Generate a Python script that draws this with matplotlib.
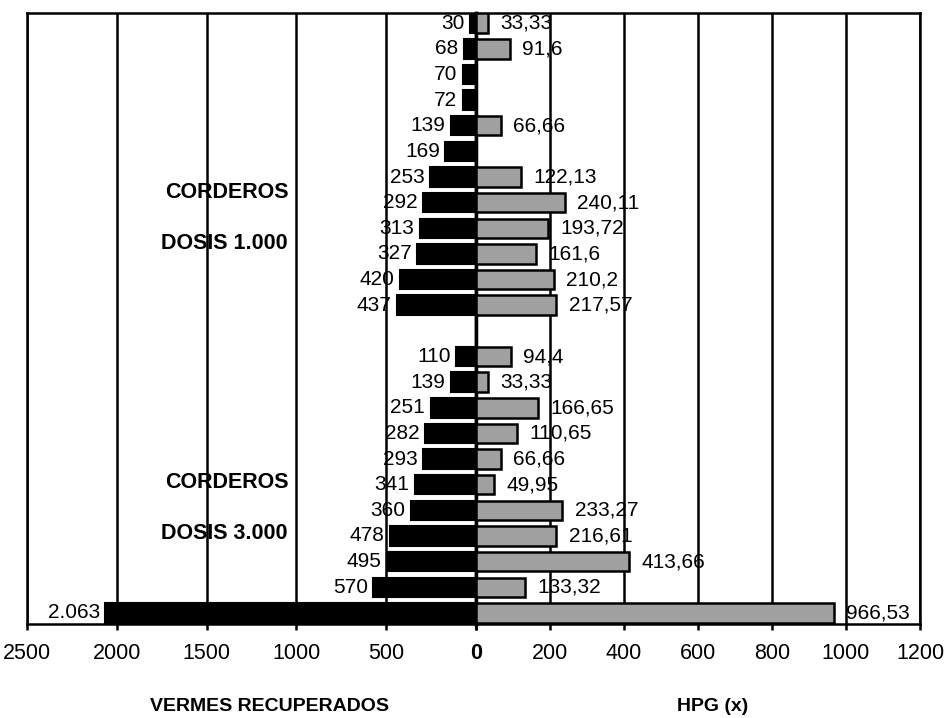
import numpy as np
import matplotlib.pyplot as plt

plt.rcParams['font.family'] = ['Liberation Sans', 'DejaVu Sans']

# grupo 1: corderos dosis 1.000 / grupo 2: corderos dosis 3.000 (de arriba a abajo)
vermes_1 = [30, 68, 70, 72, 139, 169, 253, 292, 313, 327, 420, 437]
hpg_1 = [33.33, 91.6, np.nan, np.nan, 66.66, np.nan, 122.13, 240.11, 193.72, 161.6, 210.2, 217.57]
vermes_2 = [110, 139, 251, 282, 293, 341, 360, 478, 495, 570, 2063]
hpg_2 = [94.4, 33.33, 166.65, 110.65, 66.66, 49.95, 233.27, 216.61, 413.66, 133.32, 966.53]

ticks_izq = [2500, 2000, 1500, 1000, 500, 0]
ticks_der = [0, 200, 400, 600, 800, 1000, 1200]

vermes = np.array(vermes_1 + vermes_2, dtype=float)
hpg = np.array(hpg_1 + hpg_2, dtype=float)
# una fila vacia entre los dos grupos
y = np.concatenate([np.arange(len(vermes_1)), np.arange(len(vermes_2)) + len(vermes_1) + 1])

def fmt_vermes(v):
    return f"{int(v):,}".replace(",", ".")

def fmt_hpg(v):
    return f"{v:g}".replace(".", ",")

fig = plt.figure(figsize=(9.46, 7.18), dpi=100)
axL = fig.add_axes([0.0285, 0.131, 0.4745, 0.851])
axR = fig.add_axes([0.503, 0.131, 0.4695, 0.851])

fs = 15
h = 0.76

axL.barh(y, vermes, height=h, color='black', edgecolor='black', linewidth=1.5, zorder=3)
axL.set_xlim(2500, 0)
axR.barh(y, np.nan_to_num(hpg), height=h, color='#a0a0a0', edgecolor='black', linewidth=1.8, zorder=3)
axR.set_xlim(0, 1200)
for ax in (axL, axR):
    ax.set_ylim(y.max() + 0.43, -0.4)
    ax.set_yticks([])
    ax.grid(axis='x', color='black', linewidth=1.8, zorder=1)
    ax.set_axisbelow(True)
    for s in ax.spines.values():
        s.set_linewidth(1.8)
    ax.tick_params(axis='x', length=4, width=1.8, labelsize=15.5, pad=10)

axL.set_xticks(ticks_izq)
axR.set_xticks(ticks_der)
axR.spines['left'].set_linewidth(2.5)
axL.spines['right'].set_linewidth(2.5)
# el 0 central se ve en negrita
axL.get_xticklabels()[-1].set_visible(False)
axR.get_xticklabels()[0].set_fontweight('bold')

# etiquetas de valores
for yi, v in zip(y, vermes):
    axL.annotate(fmt_vermes(v), (v, yi), xytext=(-4, 0), textcoords='offset points',
                 ha='right', va='center', fontsize=fs)
for yi, v in zip(y, hpg):
    if np.isnan(v):
        continue
    axR.annotate(fmt_hpg(v), (v, yi), xytext=(9, 0), textcoords='offset points',
                 ha='left', va='center', fontsize=fs)

# rotulos de grupo
axL.text(1385, 6.6, "CORDEROS", ha='center', va='center', fontsize=15.5, fontweight='bold')
axL.text(1402, 8.6, "DOSIS 1.000", ha='center', va='center', fontsize=15.5, fontweight='bold')
axL.text(1385, 17.9, "CORDEROS", ha='center', va='center', fontsize=15.5, fontweight='bold')
axL.text(1402, 19.9, "DOSIS 3.000", ha='center', va='center', fontsize=15.5, fontweight='bold')

fig.text(0.285, 0.016, "VERMES RECUPERADOS", ha='center', va='center', fontsize=14, fontweight='bold')
fig.text(0.753, 0.016, "HPG (x)", ha='center', va='center', fontsize=14, fontweight='bold')

fig.savefig("out.png", dpi=100)
